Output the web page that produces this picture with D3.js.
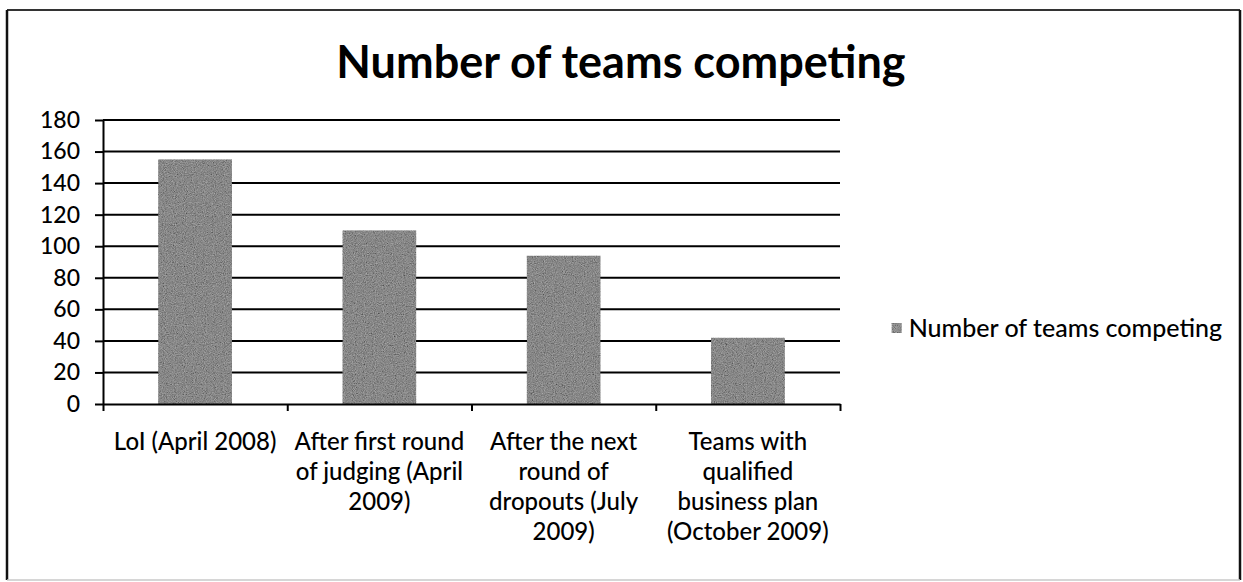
<!DOCTYPE html>
<html>
<head>
<meta charset="utf-8">
<script src="https://cdn.jsdelivr.net/npm/d3@7/dist/d3.min.js"></script>
<style>
  html, body { margin: 0; padding: 0; background: #fff; }
  svg { display: block; }
  text { font-family: Lato, "Open Sans", sans-serif; fill: #000; }
</style>
</head>
<body>
<svg id="chart" width="1243" height="582"></svg>
<script>
// Chart data
const chartTitle = "Number of teams competing";
const seriesName = "Number of teams competing";
const categories = [
  ["LoI (April 2008)"],
  ["After first round", "of judging (April", "2009)"],
  ["After the next", "round of", "dropouts (July", "2009)"],
  ["Teams with", "qualified", "business plan", "(October 2009)"]
];
const values = [155, 110, 94, 42];
const yTicks = [0, 20, 40, 60, 80, 100, 120, 140, 160, 180];

const plot = { left: 103, right: 840, top: 120, bottom: 404 };
const labelWeight = 500;

const svg = d3.select("#chart");

// Grain texture for the bars
const defs = svg.append("defs");
const grain = defs.append("filter").attr("id", "grain")
  .attr("x", 0).attr("y", 0).attr("width", "100%").attr("height", "100%");
grain.append("feTurbulence").attr("type", "fractalNoise")
  .attr("baseFrequency", 0.9).attr("numOctaves", 2).attr("seed", 7).attr("result", "noise");
grain.append("feColorMatrix").attr("in", "noise").attr("type", "matrix")
  .attr("values", "0.33 0.33 0.33 0 0  0.33 0.33 0.33 0 0  0.33 0.33 0.33 0 0  0 0 0 0 1")
  .attr("result", "gnoise");
grain.append("feComposite").attr("in", "SourceGraphic").attr("in2", "gnoise")
  .attr("operator", "arithmetic").attr("k1", 0).attr("k2", 1).attr("k3", 0.7).attr("k4", -0.35)
  .attr("result", "mix");
grain.append("feComposite").attr("in", "mix").attr("in2", "SourceGraphic").attr("operator", "in");

// Outer frame
svg.append("line").attr("x1", 7).attr("x2", 1240).attr("y1", 10).attr("y2", 10)
  .attr("stroke", "#333").attr("stroke-width", 2);
svg.append("line").attr("x1", 7).attr("x2", 7).attr("y1", 10).attr("y2", 580)
  .attr("stroke", "#111").attr("stroke-width", 2.5);
svg.append("line").attr("x1", 1240).attr("x2", 1240).attr("y1", 10).attr("y2", 580)
  .attr("stroke", "#111").attr("stroke-width", 2.5);
svg.append("line").attr("x1", 7).attr("x2", 1240).attr("y1", 580).attr("y2", 580)
  .attr("stroke", "#c8c8c8").attr("stroke-width", 1.5);

// Title
svg.append("text")
  .attr("x", 621).attr("y", 78)
  .attr("text-anchor", "middle")
  .style("font-size", "45px").style("font-weight", "bold")
  .text(chartTitle);

// Scales
const x = d3.scaleBand()
  .domain(d3.range(categories.length))
  .range([plot.left, plot.right])
  .paddingInner(0.6).paddingOuter(0.3);
const xEdge = d3.scaleLinear().domain([0, categories.length]).range([plot.left, plot.right]);
const y = d3.scaleLinear().domain([0, 180]).range([plot.bottom, plot.top]);

// Horizontal gridlines
svg.append("g").selectAll("line")
  .data(yTicks.filter(d => d > 0))
  .join("line")
  .attr("x1", plot.left).attr("x2", plot.right)
  .attr("y1", d => y(d)).attr("y2", d => y(d))
  .attr("stroke", "#000").attr("stroke-width", 2);

// Bars
svg.append("g").selectAll("rect")
  .data(values)
  .join("rect")
  .attr("x", (d, i) => x(i))
  .attr("width", x.bandwidth())
  .attr("y", d => y(d))
  .attr("height", d => y(0) - y(d))
  .attr("fill", "#888888")
  .attr("filter", "url(#grain)");

// Y axis
const yAxis = svg.append("g")
  .attr("transform", `translate(${plot.left},0)`)
  .call(d3.axisLeft(y).tickValues(yTicks).tickSize(8).tickPadding(15).tickSizeOuter(0));
yAxis.select(".domain").attr("stroke", "#000").attr("stroke-width", 2);
yAxis.selectAll(".tick line").attr("stroke", "#000").attr("stroke-width", 2);
yAxis.selectAll(".tick text")
  .style("font-size", "23px").style("font-family", "Lato, sans-serif")
  .style("font-weight", labelWeight)
  .attr("fill", "#000");

// X axis (ticks at category boundaries)
const xAxis = svg.append("g")
  .attr("transform", `translate(0,${plot.bottom})`)
  .call(d3.axisBottom(xEdge).tickValues(d3.range(categories.length + 1)).tickSize(7).tickFormat("").tickSizeOuter(0));
xAxis.select(".domain").attr("stroke", "#000").attr("stroke-width", 2);
xAxis.selectAll(".tick line").attr("stroke", "#000").attr("stroke-width", 2);

// Category labels
const catG = svg.append("g");
categories.forEach((lines, i) => {
  const cx = x(i) + x.bandwidth() / 2;
  const t = catG.append("text")
    .attr("text-anchor", "middle")
    .attr("x", cx)
    .attr("y", 450)
    .style("font-size", "24px")
    .style("font-weight", labelWeight);
  lines.forEach((ln, j) => {
    t.append("tspan")
      .attr("x", cx)
      .attr("dy", j === 0 ? 0 : 30)
      .text(ln);
  });
});

// Legend
const legendText = svg.append("text")
  .attr("x", 1222).attr("y", 337)
  .attr("text-anchor", "end")
  .style("font-size", "25px")
  .style("font-weight", labelWeight)
  .text(seriesName);
const lb = legendText.node().getBBox();
svg.append("rect")
  .attr("x", lb.x - 17).attr("y", 323).attr("width", 10).attr("height", 10)
  .attr("fill", "#8c8c8c").attr("filter", "url(#grain)");
</script>
</body>
</html>
